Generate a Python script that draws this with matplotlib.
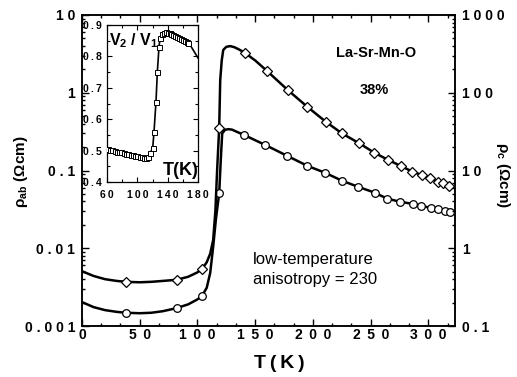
import matplotlib
matplotlib.use('Agg')
import matplotlib.pyplot as plt
from matplotlib.ticker import MultipleLocator, NullFormatter, LogLocator

plt.rcParams['font.family'] = ['Liberation Sans', 'DejaVu Sans']
plt.rcParams['mathtext.fontset'] = 'custom'
plt.rcParams['mathtext.rm'] = 'Liberation Sans'
plt.rcParams['mathtext.bf'] = 'Liberation Sans:bold'

# rho_ab (left axis, Ohm cm) - circles
ab_T = [1, 10, 20, 30, 38, 50, 60, 70, 82, 92, 100, 104, 108, 111, 113.6, 116,
        118.8, 120.2, 121.4, 124, 127, 130, 135, 140.3, 150, 158.7, 177.8, 195.1,
        210.8, 225.5, 239.4, 253.3, 264.2, 275.8, 286.5, 293.8, 301.8, 308.2, 314, 318.3]
ab_rho = [0.0020, 0.00175, 0.0016, 0.00152, 0.00148, 0.00146, 0.00148, 0.00155, 0.0017,
          0.0019, 0.0022, 0.00245, 0.0031, 0.0048, 0.0105, 0.024, 0.051, 0.14, 0.30,
          0.335, 0.34, 0.335, 0.31, 0.287, 0.245, 0.213, 0.154, 0.115, 0.093, 0.0735,
          0.0615, 0.052, 0.0435, 0.0395, 0.0372, 0.0351, 0.0331, 0.0321, 0.0303, 0.0294]
ab_mark_T = [38, 82, 104, 118.8, 140.3, 158.7, 177.8, 195.1, 210.8, 225.5, 239.4, 253.3,
             264.2, 275.8, 286.5, 293.8, 301.8, 308.2, 314, 318.3]
ab_mark_rho = [0.00148, 0.0017, 0.00245, 0.051, 0.287, 0.213, 0.154, 0.115, 0.093, 0.0735,
               0.0615, 0.052, 0.0435, 0.0395, 0.0372, 0.0351, 0.0331, 0.0321, 0.0303, 0.0294]

# rho_c (right axis, Ohm cm) - diamonds
c_T = [1, 10, 20, 30, 38, 50, 60, 70, 82, 92, 100, 104, 108, 111, 113.6, 115.5, 117,
       118.8, 119.7, 121, 122.3, 125, 128.4, 132, 136, 140.8, 150, 160, 178, 195, 211,
       225, 240, 253, 265, 276, 286, 294, 301, 308, 313, 318]
c_rho = [0.50, 0.44, 0.40, 0.38, 0.37, 0.365, 0.37, 0.38, 0.393, 0.43, 0.49, 0.543, 0.66,
         0.85, 1.28, 3.0, 10, 35.3, 146, 260, 355, 390, 398, 385, 360, 328, 260, 192, 109,
         66.2, 42.5, 30.1, 22.4, 17.0, 13.7, 11.45, 9.68, 8.77, 7.96, 7.20, 6.87, 6.4]
c_mark_T = [38, 82, 104, 118.8, 140.8, 160, 178, 195, 211, 225, 240, 253, 265, 276, 286,
            294, 301, 308, 313, 318]
c_mark_rho = [0.37, 0.393, 0.543, 35.3, 328, 192, 109, 66.2, 42.5, 30.1, 22.4, 17.0, 13.7,
              11.45, 9.68, 8.77, 7.96, 7.20, 6.87, 6.4]

# inset V2/V1
ins_T = [61, 64, 67, 70, 73, 76, 79, 82, 85, 88, 91, 94, 97, 100, 103, 106, 109, 112, 114,
         116.7, 120.3, 122, 124.6, 126.4, 128.6, 130, 132.5, 135, 137.5, 140, 142.5, 145,
         147.5, 150, 152.5, 155, 157.5, 160, 162.5, 165, 167]
ins_v = [0.505, 0.503, 0.501, 0.499, 0.497, 0.495, 0.494, 0.492, 0.490, 0.489, 0.487,
         0.485, 0.484, 0.482, 0.481, 0.479, 0.478, 0.478, 0.480,
         0.491, 0.509, 0.560, 0.655, 0.751, 0.831, 0.858, 0.872, 0.876, 0.877, 0.876,
         0.874, 0.872, 0.869, 0.866, 0.863, 0.860, 0.856, 0.852, 0.849, 0.845, 0.842]
ins_tail_T = [170, 175, 180]
ins_tail_v = [0.835, 0.815, 0.795]

x_ticks = [0, 50, 100, 150, 200, 250, 300]
ab_ticks = [0.001, 0.01, 0.1, 1, 10]
ab_labels = ['0.001', '0.01', '0.1', '1', '10']
c_ticks = [0.1, 1, 10, 100, 1000]
c_labels = ['0.1', '1', '10', '100', '1000']
ins_x_ticks = [60, 100, 140, 180]
ins_y_ticks = [0.4, 0.5, 0.6, 0.7, 0.8, 0.9]


def spread(s, gap=' '):
    return gap.join(s)


fig = plt.figure(figsize=(5.17, 3.77), dpi=100)
ax = fig.add_axes([82 / 517, 1 - 326 / 377, 373 / 517, 311 / 377])
ax2 = ax.twinx()

ax.plot(ab_T, ab_rho, color='black', lw=1.8, zorder=2)
ax.plot(ab_mark_T, ab_mark_rho, 'o', ms=5.5, mfc='white', mec='black', mew=0.9, zorder=3)
ax2.plot(c_T, c_rho, color='black', lw=1.8, zorder=2)
ax2.plot(c_mark_T, c_mark_rho, 'D', ms=4.6, mfc='white', mec='black', mew=0.9, zorder=3)

ax.set_xlim(0, 323)
ax.set_yscale('log')
ax.set_ylim(0.001, 10)
ax2.set_yscale('log')
ax2.set_ylim(0.1, 1000)

bold = dict(fontweight='bold', fontsize=10)
ax.set_xticks(x_ticks)
ax.set_xticklabels([spread(str(t), ' \u2009') for t in x_ticks], **bold)
ax.xaxis.set_minor_locator(MultipleLocator(50 / 3))
ax.set_yticks(ab_ticks)
ax.set_yticklabels([spread(s) for s in ab_labels], **bold)
ax.yaxis.set_minor_locator(LogLocator(subs=range(2, 10)))
ax.yaxis.set_minor_formatter(NullFormatter())
ax2.set_yticks(c_ticks)
ax2.set_yticklabels([spread(s) for s in c_labels], **bold)
ax2.yaxis.set_minor_locator(LogLocator(subs=range(2, 10)))
ax2.yaxis.set_minor_formatter(NullFormatter())

ax.tick_params(which='both', direction='in', top=True, right=False, width=1)
ax.tick_params(which='major', length=5)
ax.tick_params(which='minor', length=2.5)
ax.tick_params(axis='x', pad=1.5)
ax.tick_params(axis='y', pad=5)
ax2.tick_params(which='both', direction='in', width=1, pad=5)
ax2.tick_params(which='major', length=5)
ax2.tick_params(which='minor', length=2.5)
for a in (ax, ax2):
    for sp in a.spines.values():
        sp.set_linewidth(1.1)

fig.text(21 / 517, 1 - 172 / 377, 'ρ$_{\\mathbf{ab}}$ (Ωcm)', rotation=90,
         ha='center', va='center', fontsize=11, fontweight='bold')
fig.text(503 / 517, 1 - 175 / 377, 'ρ$_{\\mathbf{c}}$ (Ωcm)', rotation=270,
         ha='center', va='center', fontsize=11, fontweight='bold')
fig.text(279 / 517, 1 - 364 / 377, spread('T(K)', '\u2009'), ha='center', va='center',
         fontsize=14, fontweight='bold')

fig.text(376 / 517, 1 - 53 / 377, 'La-Sr-Mn-O', ha='center', va='center',
         fontsize=10.5, fontweight='bold')
fig.text(374 / 517, 1 - 90 / 377, '38%', ha='center', va='center',
         fontsize=10.5, fontweight='bold')
fig.text(253 / 517, 1 - 264 / 377, 'low-temperature', ha='left', va='baseline', fontsize=12)
fig.text(253 / 517, 1 - 284 / 377, 'anisotropy = 230', ha='left', va='baseline', fontsize=12)

# inset
axins = fig.add_axes([107 / 517, 1 - 182 / 377, 91 / 517, 157 / 377])
axins.plot(ins_T + ins_tail_T, ins_v + ins_tail_v, color='black', lw=1.2, zorder=2)
axins.plot(ins_T, ins_v, 's', ms=3.6, mfc='white', mec='black', mew=0.7, zorder=3)
axins.set_xlim(60, 180)
axins.set_ylim(0.4, 0.9)
axins.set_xticks(ins_x_ticks)
axins.set_xticklabels([spread(str(t), '\u2009') for t in ins_x_ticks],
                      fontsize=7.5, fontweight='bold')
axins.set_yticks(ins_y_ticks)
axins.set_yticklabels([spread('%.1f' % v, '\u2009') for v in ins_y_ticks],
                      fontsize=7.5, fontweight='bold')
axins.xaxis.set_minor_locator(MultipleLocator(20))
axins.yaxis.set_minor_locator(MultipleLocator(0.05))
axins.tick_params(which='both', direction='in', top=True, right=True, width=0.8)
axins.tick_params(which='major', length=3.5)
axins.tick_params(which='minor', length=2)
axins.tick_params(axis='x', pad=6)
axins.tick_params(axis='y', pad=3.5)
for sp in axins.spines.values():
    sp.set_linewidth(0.9)
axins.text(0.02, 0.96, 'V$_\\mathbf{2}$ / V$_\\mathbf{1}$', transform=axins.transAxes,
           ha='left', va='top', fontsize=11.5, fontweight='bold')
axins.text(0.81, 0.076, 'T(K)', transform=axins.transAxes, ha='center', va='center',
           fontsize=13, fontweight='bold')

fig.savefig('out.png', dpi=100)
